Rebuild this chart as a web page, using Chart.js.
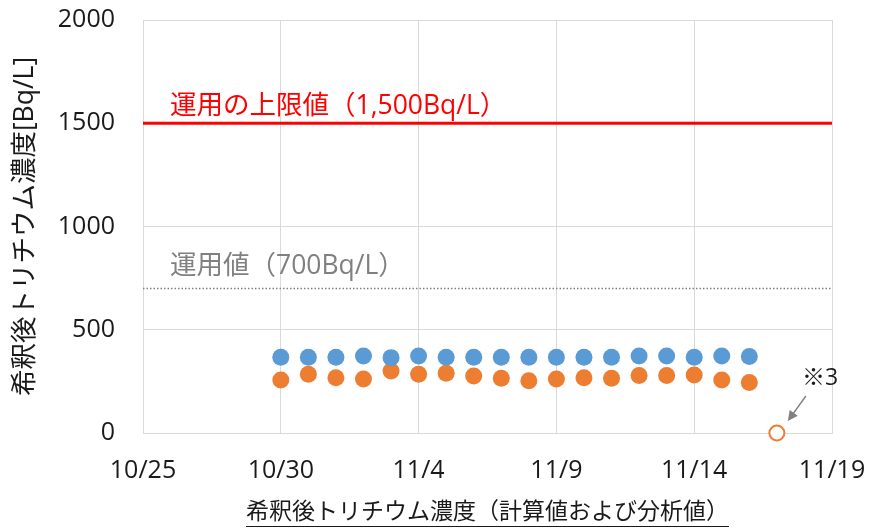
<!DOCTYPE html>
<html lang="ja">
<head>
<meta charset="utf-8">
<title>希釈後トリチウム濃度</title>
<script src="https://cdn.jsdelivr.net/npm/chart.js@4/dist/chart.umd.min.js"></script>
<style>
  html, body { margin: 0; padding: 0; background: #fff; }
  #wrap { width: 869px; height: 529px; }
</style>
</head>
<body>
<div id="wrap"><canvas id="c" width="869" height="529"></canvas></div>
<script>
// Daily diluted tritium concentration (calculated / analysed)
const dates = ['10/30','10/31','11/1','11/2','11/3','11/4','11/5','11/6','11/7',
               '11/8','11/9','11/10','11/11','11/12','11/13','11/14','11/15','11/16'];
const calcValues = [367, 367, 367, 373, 365, 373, 367, 367, 367,
                    367, 367, 367, 367, 373, 373, 367, 373, 370];
const analysisValues = [257, 284, 268, 262, 300, 284, 289, 276, 265,
                        253, 261, 268, 265, 278, 278, 281, 257, 244];
const pendingDates = ['11/17'];
const pendingValues = [0];

const xTickLabels = ['10/25', '10/30', '11/4', '11/9', '11/14', '11/19'];
const yTickValues = [0, 500, 1000, 1500, 2000];

const upperLimit = 1500;     // 運用の上限値
const operatingValue = 700;  // 運用値

// days counted from the first tick date
const originDate = xTickLabels[0];
function dayIndex(s) {
  const [m, d] = s.split('/').map(Number);
  const [m0, d0] = originDate.split('/').map(Number);
  return Math.round((Date.UTC(2000, m - 1, d) - Date.UTC(2000, m0 - 1, d0)) / 864e5);
}
const xMin = dayIndex(xTickLabels[0]);
const xMax = dayIndex(xTickLabels[xTickLabels.length - 1]);

const toPoints = (ds, vs) => ds.map((d, i) => ({ x: dayIndex(d), y: vs[i] }));

const BLUE = '#5b9bd5';
const ORANGE = '#ed7d31';
const RED = '#ff0000';
const GREY = '#808080';
const GRID = '#d9d9d9';
const INK = '#1a1a1a';
const FONT = '"Open Sans", "Noto Sans CJK JP", sans-serif';

// captions of the reference lines, the ※3 pointer and axis titles
const decorations = {
  id: 'decorations',
  afterDatasetsDraw(chart) {
    const { ctx, chartArea, scales: { x, y } } = chart;
    ctx.save();

    ctx.textBaseline = 'middle';
    ctx.textAlign = 'left';
    ctx.font = '26.5px ' + FONT;
    ctx.fillStyle = RED;
    ctx.fillText('運用の上限値（1,500Bq/L）', chartArea.left + 27, y.getPixelForValue(upperLimit) - 17);
    ctx.fillStyle = GREY;
    ctx.fillText('運用値（700Bq/L）', chartArea.left + 27, y.getPixelForValue(operatingValue) - 22);

    // ※3 pointer at the pending analysis point
    const px = x.getPixelForValue(dayIndex(pendingDates[0]));
    const py = y.getPixelForValue(pendingValues[0]);
    const tipX = px + 11, tipY = py - 12;
    const tailX = px + 29, tailY = py - 37;
    const ang = Math.atan2(tipY - tailY, tipX - tailX);
    ctx.strokeStyle = GREY;
    ctx.fillStyle = GREY;
    ctx.lineWidth = 1.5;
    ctx.beginPath();
    ctx.moveTo(tailX, tailY);
    ctx.lineTo(tipX - 6 * Math.cos(ang), tipY - 6 * Math.sin(ang));
    ctx.stroke();
    ctx.beginPath();
    ctx.moveTo(tipX, tipY);
    ctx.lineTo(tipX - 10 * Math.cos(ang) + 5 * Math.sin(ang), tipY - 10 * Math.sin(ang) - 5 * Math.cos(ang));
    ctx.lineTo(tipX - 10 * Math.cos(ang) - 5 * Math.sin(ang), tipY - 10 * Math.sin(ang) + 5 * Math.cos(ang));
    ctx.closePath();
    ctx.fill();
    ctx.fillStyle = INK;
    ctx.font = '23px ' + FONT;
    ctx.fillText('※3', px + 25, py - 55);

    // y axis title
    ctx.save();
    ctx.translate(25, (chartArea.top + chartArea.bottom) / 2);
    ctx.rotate(-Math.PI / 2);
    ctx.textAlign = 'center';
    ctx.font = '26.5px ' + FONT;
    ctx.fillStyle = INK;
    ctx.fillText('希釈後トリチウム濃度[Bq/L]', 0, 0);
    ctx.restore();

    // x axis title, underlined
    const title = '希釈後トリチウム濃度（計算値および分析値）';
    const cx = (chartArea.left + chartArea.right) / 2;
    const ty = chartArea.bottom + 79;
    ctx.font = '23px ' + FONT;
    ctx.textAlign = 'center';
    ctx.fillStyle = INK;
    ctx.fillText(title, cx, ty);
    const w = ctx.measureText(title).width;
    ctx.strokeStyle = INK;
    ctx.lineWidth = 1.2;
    ctx.beginPath();
    ctx.moveTo(cx - w / 2, ty + 14.5);
    ctx.lineTo(cx + w / 2, ty + 14.5);
    ctx.stroke();

    ctx.restore();
  }
};

new Chart(document.getElementById('c'), {
  type: 'scatter',
  data: {
    datasets: [
      {
        label: '計算値',
        data: toPoints(dates, calcValues),
        backgroundColor: BLUE,
        borderWidth: 0,
        pointRadius: 8.5,
        pointHoverRadius: 8.5
      },
      {
        label: '分析値',
        data: toPoints(dates, analysisValues),
        backgroundColor: ORANGE,
        borderWidth: 0,
        pointRadius: 8.5,
        pointHoverRadius: 8.5
      },
      {
        label: '分析値（※3）',
        data: toPoints(pendingDates, pendingValues),
        backgroundColor: '#ffffff',
        borderColor: ORANGE,
        borderWidth: 2,
        pointRadius: 7.5,
        clip: false
      },
      {
        label: '運用の上限値',
        type: 'line',
        data: [{ x: xMin, y: upperLimit }, { x: xMax, y: upperLimit }],
        borderColor: RED,
        borderWidth: 3,
        pointRadius: 0,
        showLine: true
      },
      {
        label: '運用値',
        type: 'line',
        data: [{ x: xMin, y: operatingValue }, { x: xMax, y: operatingValue }],
        borderColor: GREY,
        borderWidth: 1.5,
        borderDash: [1.5, 2],
        pointRadius: 0,
        showLine: true
      }
    ]
  },
  options: {
    responsive: false,
    animation: false,
    events: [],
    layout: { padding: { top: 20, right: 37, left: 0, bottom: 0 } },
    plugins: { legend: { display: false }, tooltip: { enabled: false } },
    scales: {
      x: {
        type: 'linear',
        min: xMin,
        max: xMax,
        afterFit(s) {
          s.height = 96;
          s.paddingLeft = 0; s.paddingRight = 0;
        },
        afterBuildTicks(s) { s.ticks = xTickLabels.map(l => ({ value: dayIndex(l) })); },
        ticks: {
          autoSkip: false,
          maxRotation: 0,
          padding: 23,
          color: INK,
          font: { family: FONT, size: 25 },
          callback(v) {
            const l = xTickLabels.find(t => dayIndex(t) === v);
            return l === undefined ? '' : l;
          }
        },
        grid: { color: GRID, lineWidth: 1, drawTicks: false },
        border: { display: true, color: GRID, width: 1 }
      },
      y: {
        min: yTickValues[0],
        max: yTickValues[yTickValues.length - 1],
        afterFit(s) {
          s.width = 143;
          s.paddingTop = 0; s.paddingBottom = 0;
        },
        afterBuildTicks(s) { s.ticks = yTickValues.map(v => ({ value: v })); },
        ticks: {
          padding: 28,
          color: INK,
          font: { family: FONT, size: 25 },
          callback(v) { return String(v); }
        },
        grid: { color: GRID, lineWidth: 1, drawTicks: false },
        border: { display: true, color: GRID, width: 1 }
      }
    }
  },
  plugins: [decorations]
});
</script>
</body>
</html>
